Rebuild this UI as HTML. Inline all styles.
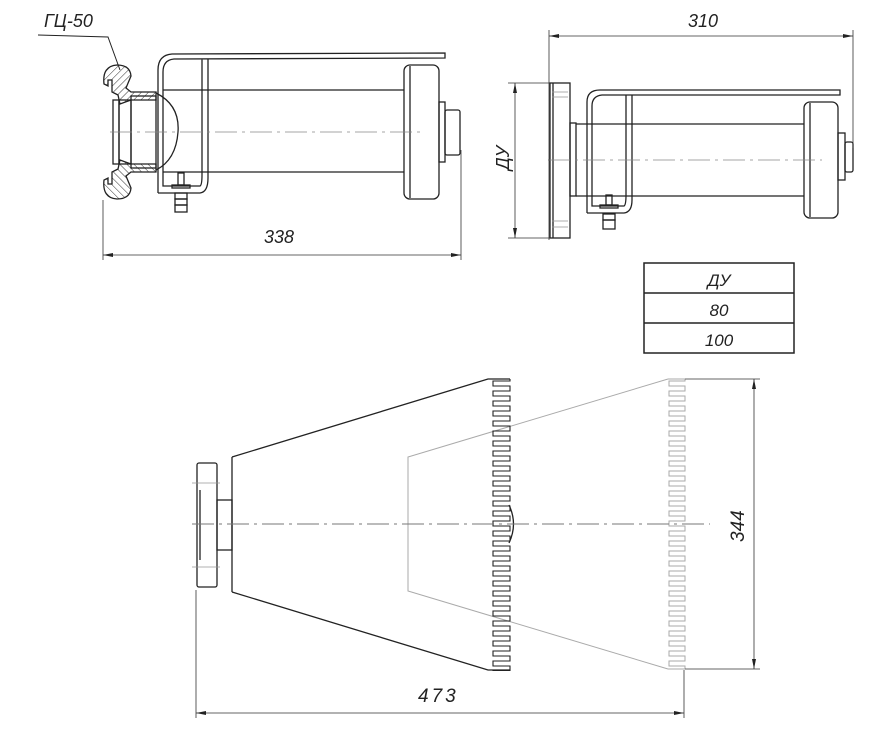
<!DOCTYPE html>
<html><head><meta charset="utf-8"><style>
html,body{margin:0;padding:0;background:#fff;}
svg{display:block;}
text{font-family:"Liberation Sans","DejaVu Sans",sans-serif;font-style:italic;fill:#222;}
</style></head><body>
<svg width="884" height="744" viewBox="0 0 884 744" xmlns="http://www.w3.org/2000/svg">
<defs>
<pattern id="h" width="5" height="5" patternUnits="userSpaceOnUse" patternTransform="rotate(45)">
<line x1="0" y1="0" x2="0" y2="5" stroke="#333" stroke-width="1"/></pattern>
<marker id="a" viewBox="0 0 10 4" refX="10" refY="2" markerWidth="12" markerHeight="4" markerUnits="userSpaceOnUse" orient="auto-start-reverse"><path d="M0,0 L10,2 L0,4z" fill="#222"/></marker>
<clipPath id="cl"><rect x="480" y="378" width="40" height="293"/></clipPath>
</defs>
<rect width="884" height="744" fill="#fff"/>

<g fill="none" stroke="#222" stroke-width="1.3">
<text x="44" y="27" font-size="18" stroke="none">ГЦ-50</text>
<polyline points="38,35 108,37 120,70" stroke-width="1"/>
<g id="cp">
<path d="M104,84 Q102,66 117,65 Q130,65 131,76 L126,88 L131,92 L156,92 L156,100 L131,100 L120,104 L118,95 L112,92 L112,80 L108,80 L108,86 Z" fill="url(#h)"/>
</g>
<use href="#cp" transform="translate(0,264) scale(1,-1)"/>
<rect x="113" y="100" width="6" height="64"/>
<rect x="119" y="100" width="12" height="64"/>
<rect x="131" y="96" width="25" height="72"/>
<path d="M156,93 Q180,105 178,132 Q176,160 156,170"/>
<path d="M158,193 L158,70 Q158,55 172,54 L445,53 L445,58 L174,59 Q163,60 163,72 L163,186 L200,186 Q202,185 202,175 L202,59"/>
<path d="M158,193 L200,193 Q208,192 208,178 L208,59"/>
<line x1="163" y1="90" x2="404" y2="90"/>
<line x1="163" y1="172" x2="404" y2="172"/>
<rect x="404" y="65" width="35" height="134" rx="6"/>
<line x1="410" y1="66" x2="410" y2="198"/>
<rect x="439" y="102" width="6" height="60"/>
<rect x="445" y="110" width="15" height="45" rx="2"/>
<rect x="178" y="173" width="6" height="12"/>
<rect x="172" y="185" width="18" height="3"/>
<rect x="175" y="193" width="12" height="6"/>
<rect x="175" y="199" width="12" height="6"/>
<rect x="175" y="205" width="12" height="7"/>
</g>
<line x1="110" y1="132" x2="422" y2="132" stroke="#888" stroke-width="0.8" stroke-dasharray="22,5,3,5"/>
<g stroke="#333" stroke-width="0.8">
<line x1="103" y1="200" x2="103" y2="260"/>
<line x1="461" y1="150" x2="461" y2="260"/>
<line x1="103" y1="255" x2="461" y2="255" marker-start="url(#a)" marker-end="url(#a)"/>
</g>
<text x="264" y="243" font-size="18">338</text>

<g fill="none" stroke="#222" stroke-width="1.3">
<rect x="550" y="83" width="20" height="155"/>
<line x1="553" y1="83" x2="553" y2="238"/>
<rect x="570" y="123" width="6" height="73"/>
<line x1="576" y1="124" x2="804" y2="124"/>
<line x1="576" y1="196" x2="804" y2="196"/>
<path d="M587,213 L587,102 Q587,90 600,90 L840,90 L840,95 L602,95 Q592,96 592,106 L592,206 L624,206 Q626,205 626,195 L626,95"/>
<path d="M587,213 L624,213 Q632,212 632,200 L632,95"/>
<rect x="804" y="102" width="34" height="116" rx="6"/>
<line x1="810" y1="103" x2="810" y2="217"/>
<rect x="838" y="133" width="7" height="47"/>
<rect x="845" y="142" width="8" height="30" rx="2"/>
<rect x="606" y="195" width="6" height="10"/>
<rect x="600" y="205" width="18" height="3"/>
<rect x="603" y="214" width="12" height="6"/>
<rect x="603" y="220" width="12" height="9"/>
</g>
<g stroke="#999" stroke-width="0.8">
<line x1="552" y1="92" x2="568" y2="92"/><line x1="552" y1="97" x2="568" y2="97"/>
<line x1="552" y1="221" x2="568" y2="221"/><line x1="552" y1="227" x2="568" y2="227"/>
</g>
<line x1="548" y1="160" x2="822" y2="160" stroke="#888" stroke-width="0.8" stroke-dasharray="22,5,3,5"/>
<g stroke="#333" stroke-width="0.8">
<line x1="549" y1="30" x2="549" y2="240"/>
<line x1="853" y1="30" x2="853" y2="148"/>
<line x1="549" y1="36" x2="853" y2="36" marker-start="url(#a)" marker-end="url(#a)"/>
<line x1="508" y1="83" x2="550" y2="83"/>
<line x1="508" y1="238" x2="550" y2="238"/>
<line x1="515" y1="83" x2="515" y2="238" marker-start="url(#a)" marker-end="url(#a)"/>
</g>
<text x="688" y="27" font-size="18">310</text>
<text transform="translate(509,170) rotate(-90)" font-size="18">ДУ</text>

<g fill="none" stroke="#222" stroke-width="1.5">
<rect x="644" y="263" width="150" height="90"/>
<line x1="644" y1="293" x2="794" y2="293"/>
<line x1="644" y1="323" x2="794" y2="323"/>
</g>
<g font-size="17" text-anchor="middle">
<text x="719" y="286">ДУ</text>
<text x="719" y="316">80</text>
<text x="719" y="346">100</text>
</g>

<g fill="none" stroke="#aaa" stroke-width="1">
<path d="M668,379 L408,457 L408,591 L668,669"/>
<path d="M668,379 H685 M668,669 H685"/>
<path d="M685,379 v2 h-16 v5 h16 v5 h-16 v5 h16 v5 h-16 v5 h16 v5 h-16 v5 h16 v5 h-16 v5 h16 v5 h-16 v5 h16 v5 h-16 v5 h16 v5 h-16 v5 h16 v5 h-16 v5 h16 v5 h-16 v5 h16 v5 h-16 v5 h16 v5 h-16 v5 h16 v5 h-16 v5 h16 v5 h-16 v5 h16 v5 h-16 v5 h16 v5 h-16 v5 h16 v5 h-16 v5 h16 v5 h-16 v5 h16 v5 h-16 v5 h16 v5 h-16 v5 h16 v5 h-16 v5 h16 v5 h-16 v5 h16 v5 h-16 v5 h16 v5 h-16 v5 h16 v5 h-16 v5 h16 v5 h-16 v5 h16 v5 h-16 v5 h16 v5 h-16 v5 h16 v5 h-16 v5 h16 v3"/>
</g>
<g fill="none" stroke="#222" stroke-width="1.3">
<rect x="197" y="463" width="20" height="124" rx="2"/>
<line x1="200" y1="490" x2="200" y2="560"/>
<rect x="217" y="500" width="15" height="50"/>
<line x1="232" y1="457" x2="232" y2="592"/>
<path d="M232,457 L488,379 L510,379 M232,592 L488,670 L510,670"/>
<path clip-path="url(#cl)" stroke-width="1.1" d="M510,379 v2 h-17 v5 h17 v5 h-17 v5 h17 v5 h-17 v5 h17 v5 h-17 v5 h17 v5 h-17 v5 h17 v5 h-17 v5 h17 v5 h-17 v5 h17 v5 h-17 v5 h17 v5 h-17 v5 h17 v5 h-17 v5 h17 v5 h-17 v5 h17 v5 h-17 v5 h17 v5 h-17 v5 h17 v5 h-17 v5 h17 v5 h-17 v5 h17 v5 h-17 v5 h17 v5 h-17 v5 h17 v5 h-17 v5 h17 v5 h-17 v5 h17 v5 h-17 v5 h17 v5 h-17 v5 h17 v5 h-17 v5 h17 v5 h-17 v5 h17 v5 h-17 v5 h17 v5 h-17 v5 h17 v5 h-17 v5 h17 v5 h-17 v5 h17 v5 h-17 v5 h17 v5 h-17 v5 h17 v5 h-17 v5 h17 v5 h-17 v5 h17 v5 h-17 v5 h17 v4"/>
<path d="M509,505 Q518,524 509,543"/>
</g>
<g stroke="#999" stroke-width="0.8">
<line x1="192" y1="483" x2="220" y2="483"/><line x1="192" y1="567" x2="220" y2="567"/>
</g>
<line x1="192" y1="524" x2="710" y2="524" stroke="#777" stroke-width="0.9" stroke-dasharray="22,5,3,5"/>
<g stroke="#333" stroke-width="0.8">
<line x1="685" y1="379" x2="760" y2="379"/>
<line x1="685" y1="669" x2="760" y2="669"/>
<line x1="754" y1="379" x2="754" y2="669" marker-start="url(#a)" marker-end="url(#a)"/>
<line x1="196" y1="590" x2="196" y2="718"/>
<line x1="684" y1="670" x2="684" y2="718"/>
<line x1="196" y1="713" x2="684" y2="713" marker-start="url(#a)" marker-end="url(#a)"/>
</g>
<text transform="translate(744,542) rotate(-90)" font-size="19">344</text>
<text x="418" y="702" font-size="19" letter-spacing="3">473</text>
</svg>
</body></html>
